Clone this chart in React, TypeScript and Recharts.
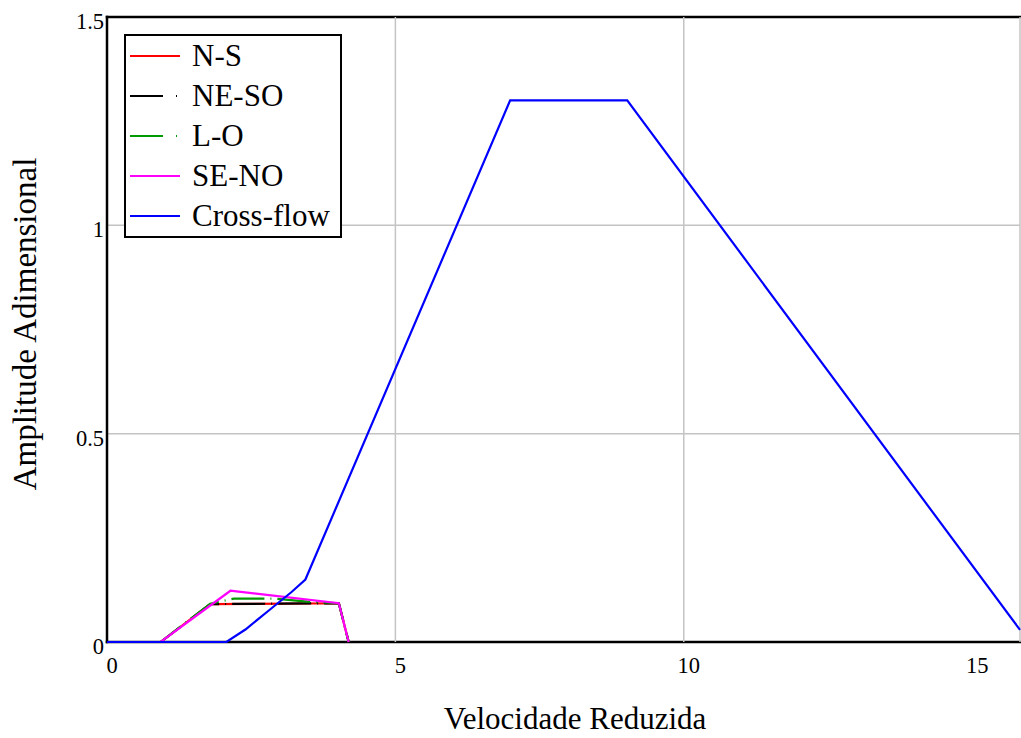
import { CartesianGrid, Legend, Line, LineChart, XAxis, YAxis } from "recharts";

const SERIF = '"Liberation Serif", "Times New Roman", serif';

// x: velocidade reduzida, y: amplitude adimensional
const nsX = [0, 0.93, 1.79, 4.02, 4.19];
const nsY = [0, 0, 0.091, 0.093, 0];

const neSoX = [0, 0.93, 1.79, 4.02, 4.19];
const neSoY = [0, 0, 0.091, 0.093, 0];

const loX = [0, 0.93, 1.79, 2.2, 2.92, 3.47, 4.02, 4.19];
const loY = [0, 0, 0.092, 0.104, 0.104, 0.097, 0.093, 0];

const seNoX = [0, 0.93, 2.14, 2.28, 4.02, 4.19];
const seNoY = [0, 0, 0.123, 0.121, 0.093, 0];

const crossX = [0, 2.07, 2.4, 2.8, 3.2, 3.44, 6.99, 9.02, 15.83];
const crossY = [0, 0, 0.03, 0.075, 0.12, 0.15, 1.3, 1.3, 0.029];

const X_MAX = 15.83;
const xTicks = [0, 5, 10, 15];
const yTicks = [0, 0.5, 1, 1.5];

const toPoints = (xs: number[], ys: number[]) => xs.map((x, i) => ({ x, y: ys[i] }));

const SERIES = [
  { name: "N-S", data: toPoints(nsX, nsY), color: "#ff0000", dash: undefined },
  { name: "NE-SO", data: toPoints(neSoX, neSoY), color: "#000000", dash: "33 6 1 6" },
  { name: "L-O", data: toPoints(loX, loY), color: "#009900", dash: "33 6 1 6" },
  { name: "SE-NO", data: toPoints(seNoX, seNoY), color: "#ff00ff", dash: undefined },
  { name: "Cross-flow", data: toPoints(crossX, crossY), color: "#0000ff", dash: undefined },
];

// grid lines: outer ones form the black frame, inner ones grey
function gridLine(count: number) {
  return (props: any) => {
    const { x1, y1, x2, y2, index } = props;
    const edge = index === 0 || index === count - 1;
    return (
      <line
        key={`g-${count}-${index}`}
        x1={x1}
        y1={y1}
        x2={x2}
        y2={y2}
        stroke={edge ? "#000" : "#c4c4c4"}
        strokeWidth={edge ? 2.5 : 1.5}
        strokeLinecap={edge ? "square" : "butt"}
      />
    );
  };
}

function XTick(props: any) {
  const { x, y, payload } = props;
  return (
    <text x={x + 5} y={y + 31} textAnchor="middle" fontFamily={SERIF} fontSize={22.5} fill="#000">
      {payload.value}
    </text>
  );
}

function YTick(props: any) {
  const { x, y, payload } = props;
  return (
    <text x={x} y={y + 12} textAnchor="end" fontFamily={SERIF} fontSize={22.5} fill="#000">
      {payload.value}
    </text>
  );
}

function LegendBox() {
  return (
    <div
      style={{
        border: "2px solid #000",
        background: "#fff",
        width: 214,
        fontFamily: SERIF,
        fontSize: 31,
        color: "#000",
      }}
    >
      {SERIES.map((s) => (
        <div key={s.name} style={{ display: "flex", alignItems: "center", height: 40 }}>
          <svg width={62} height={40} style={{ flex: "none" }}>
            <line
              x1={4}
              x2={54}
              y1={20}
              y2={20}
              stroke={s.color}
              strokeWidth={2}
              strokeDasharray={s.dash ? "33 13 1 20" : undefined}
            />
          </svg>
          <span style={{ marginLeft: 4, lineHeight: "40px" }}>{s.name}</span>
        </div>
      ))}
    </div>
  );
}

export default function App() {
  return (
    <div style={{ position: "absolute", left: 0, top: 0, width: 1021, height: 738, background: "#fff", overflow: "hidden" }}>
      <LineChart width={1021} height={738} margin={{ top: 17, right: 1, bottom: 0, left: 0 }}>
        <CartesianGrid
          horizontalValues={yTicks}
          verticalValues={[...xTicks, X_MAX]}
          horizontal={gridLine(yTicks.length)}
          vertical={gridLine(xTicks.length + 1)}
        />
        <XAxis
          dataKey="x"
          type="number"
          domain={[0, X_MAX]}
          ticks={xTicks}
          height={96}
          axisLine={false}
          tickLine={false}
          tickSize={0}
          tickMargin={0}
          tick={<XTick />}
        />
        <YAxis
          type="number"
          domain={[0, 1.5]}
          ticks={yTicks}
          width={107}
          axisLine={false}
          tickLine={false}
          tickSize={0}
          tickMargin={3}
          tick={<YTick />}
        />
        <Legend
          layout="horizontal"
          verticalAlign="middle"
          align="center"
          content={() => <LegendBox />}
          wrapperStyle={{ left: 124, top: 34, width: 218, height: 204 }}
        />
        {SERIES.map((s) => (
          <Line
            key={s.name}
            name={s.name}
            data={s.data}
            dataKey="y"
            type="linear"
            stroke={s.color}
            strokeWidth={2.2}
            strokeDasharray={s.dash}
            dot={false}
            activeDot={false}
            isAnimationActive={false}
          />
        ))}
      </LineChart>
      <div
        style={{
          position: "absolute",
          left: 575,
          top: 704,
          transform: "translateX(-50%)",
          whiteSpace: "nowrap",
          fontFamily: SERIF,
          fontSize: 31,
          lineHeight: "30px",
        }}
      >
        Velocidade Reduzida
      </div>
      <div
        style={{
          position: "absolute",
          left: 25,
          top: 324,
          transform: "translate(-50%, -50%) rotate(-90deg)",
          whiteSpace: "nowrap",
          fontFamily: SERIF,
          fontSize: 33,
          lineHeight: "40px",
        }}
      >
        Amplitude Adimensional
      </div>
    </div>
  );
}
